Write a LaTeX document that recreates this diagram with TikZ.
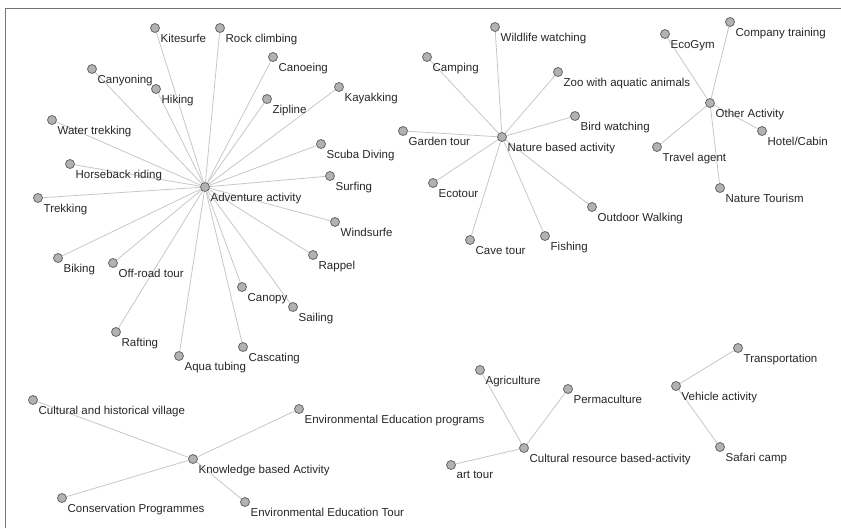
\documentclass[tikz,border=0pt]{standalone}
\usepackage{fontspec}
\setmainfont{Liberation Sans}
\usetikzlibrary{backgrounds}
\tikzset{
	vertex/.style={circle,draw=black!60,fill=black!30,line width=0.8pt,minimum size=9pt,inner sep=0pt},
	lbl/.style={anchor=north west,inner sep=0pt,xshift=2pt,yshift=-2.5pt,text=black!85,font=\fontsize{11.5}{13}\selectfont},
	tie/.style={draw=black!22,line width=0.8pt},
}
% one vertex with its name, place and text
\newcommand{\vtx}[3]{\node[vertex,label={[lbl]below right:#3}] (#1) at (#2) {};}

\begin{document}
\begin{tikzpicture}[x=1pt,y=-1pt]
	\useasboundingbox (0,0) rectangle (841,528);
	% frame of the scanned figure
	\draw[black!55,line width=0.8pt] (5,528) -- (5,8) -- (841,8);
	
	% adventure cluster
	\vtx{adv}{205,187}{Adventure activity}
	\vtx{kite}{155,28}{Kitesurfe}
	\vtx{rock}{220,28}{Rock climbing}
	\vtx{cano}{273,57}{Canoeing}
	\vtx{cany}{92,69}{Canyoning}
	\vtx{hike}{156,89}{Hiking}
	\vtx{kaya}{339,87}{Kayakking}
	\vtx{zip}{267,99}{Zipline}
	\vtx{wtrek}{52,120}{Water trekking}
	\vtx{scuba}{321,144}{Scuba Diving}
	\vtx{horse}{70,164}{Horseback riding}
	\vtx{surf}{330,176}{Surfing}
	\vtx{trek}{38,198}{Trekking}
	\vtx{wind}{335,222}{Windsurfe}
	\vtx{rap}{313,255}{Rappel}
	\vtx{bike}{58,258}{Biking}
	\vtx{offr}{113,263}{Off-road tour}
	\vtx{canopy}{242,287}{Canopy}
	\vtx{sail}{293,307}{Sailing}
	\vtx{raft}{116,332}{Rafting}
	\vtx{casc}{243,347}{Cascating}
	\vtx{aqua}{179,356}{Aqua tubing}
	
	% nature cluster
	\vtx{nat}{502,137}{Nature based activity}
	\vtx{wild}{495,27}{Wildlife watching}
	\vtx{camp}{427,57}{Camping}
	\vtx{zoo}{558,72}{Zoo with aquatic animals}
	\vtx{bird}{575,116}{Bird watching}
	\vtx{garden}{403,131}{Garden tour}
	\vtx{eco}{433,183}{Ecotour}
	\vtx{walk}{592,207}{Outdoor Walking}
	\vtx{cave}{470,240}{Cave tour}
	\vtx{fish}{545,236}{Fishing}
	
	% other cluster
	\vtx{oth}{710,103}{Other Activity}
	\vtx{gym}{665,34}{EcoGym}
	\vtx{comp}{730,22}{Company training}
	\vtx{hotel}{762,131}{Hotel/Cabin}
	\vtx{travel}{657,147}{Travel agent}
	\vtx{ntour}{720,188}{Nature Tourism}
	
	% knowledge cluster
	\vtx{know}{193,459}{Knowledge based Activity}
	\vtx{vill}{33,400}{Cultural and historical village}
	\vtx{eprog}{299,409}{Environmental Education programs}
	\vtx{cons}{62,498}{Conservation Programmes}
	\vtx{etour}{245,502}{Environmental Education Tour}
	
	% cultural resource cluster
	\vtx{cult}{524,448}{Cultural resource based-activity}
	\vtx{agri}{480,370}{Agriculture}
	\vtx{perma}{568,389}{Permaculture}
	\vtx{art}{451,465}{art tour}
	
	% vehicle cluster
	\vtx{veh}{676,386}{Vehicle activity}
	\vtx{trans}{738,348}{Transportation}
	\vtx{safari}{720,447}{Safari camp}
	
	% spokes go behind the vertices and texts
	\begin{scope}[on background layer]
		\foreach \leaf in {kite,rock,cano,cany,hike,kaya,zip,wtrek,scuba,horse,surf,trek,wind,rap,bike,offr,canopy,sail,raft,casc,aqua}
			\draw[tie] (adv) -- (\leaf);
		\foreach \leaf in {wild,camp,zoo,bird,garden,eco,walk,cave,fish}
			\draw[tie] (nat) -- (\leaf);
		\foreach \leaf in {gym,comp,hotel,travel,ntour}
			\draw[tie] (oth) -- (\leaf);
		\foreach \leaf in {vill,eprog,cons,etour}
			\draw[tie] (know) -- (\leaf);
		\foreach \leaf in {agri,perma,art}
			\draw[tie] (cult) -- (\leaf);
		\foreach \leaf in {trans,safari}
			\draw[tie] (veh) -- (\leaf);
	\end{scope}
\end{tikzpicture}
\end{document}
